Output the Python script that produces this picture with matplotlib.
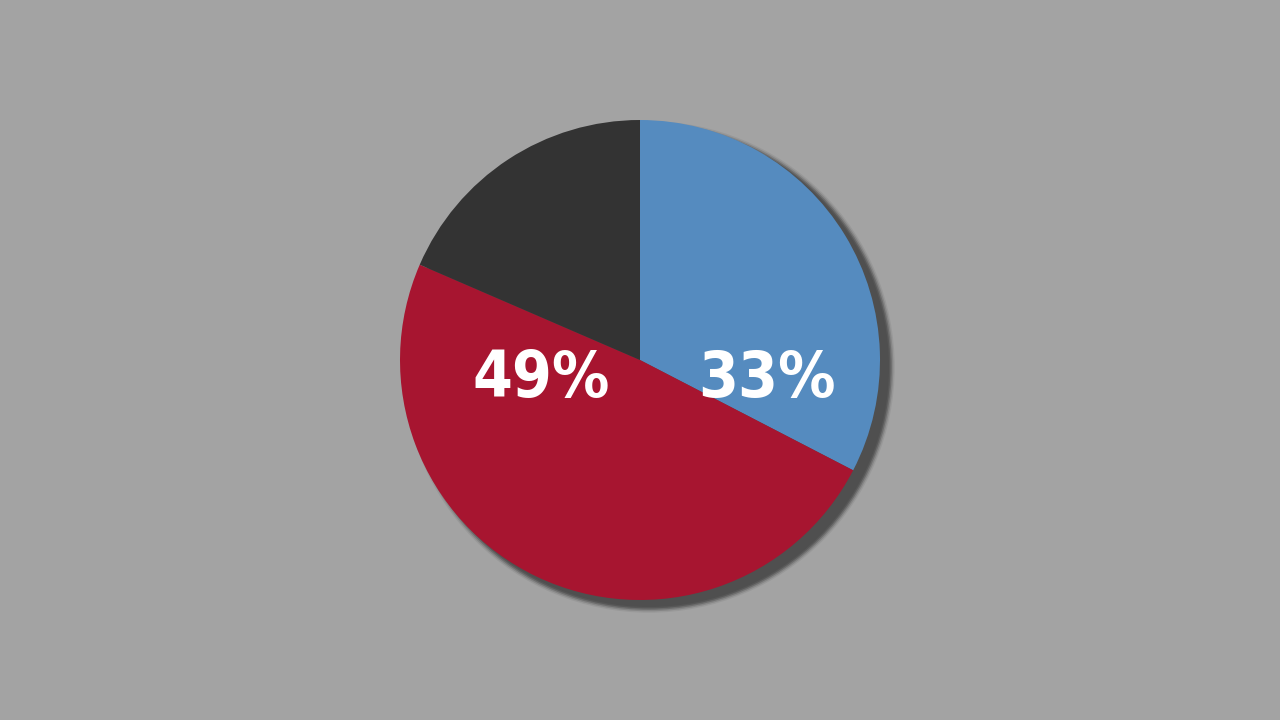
import numpy as np
import matplotlib.pyplot as plt
from matplotlib.patches import Circle

# data
labels = ["33%", "49%", ""]
values = [32.6, 48.9, 18.5]
colors = ["#558BBF", "#A71530", "#333333"]
# label offsets (pie radius units)
label_x = [0.53, -0.41]
label_y = [-0.08, -0.08]

fig = plt.figure(figsize=(12.8, 7.2), dpi=100, facecolor="#A3A3A3")
ax = fig.add_axes([0, 0, 1, 1])
ax.set_facecolor("#A3A3A3")

# soft drop shadow
dx, dy = 9 / 240, -7 / 240
for i, a in enumerate([0.12, 0.25, 0.45, 0.7, 1.0]):
    ax.add_patch(Circle((dx, dy), 1.0 + (4 - i) * 0.006, color="#4F4F4F",
                        alpha=a, lw=0, zorder=1))

wedges, _ = ax.pie(values, colors=colors, startangle=90, counterclock=False,
                   radius=1.0, wedgeprops=dict(linewidth=0))
for w in wedges:
    w.set_zorder(2)

for t, x, y in zip(labels, label_x, label_y):
    ax.text(x, y, t, ha="center", va="center", color="white", fontsize=46,
            fontweight="bold", family=["DejaVu Sans"], fontstretch="condensed",
            zorder=3)

# pie() resets limits, so set them afterwards
ax.set_xlim(-640 / 240, 640 / 240)
ax.set_ylim(-1.5, 1.5)
ax.set_aspect("equal")
ax.axis("off")

plt.savefig("out.png", dpi=100, facecolor=fig.get_facecolor())
